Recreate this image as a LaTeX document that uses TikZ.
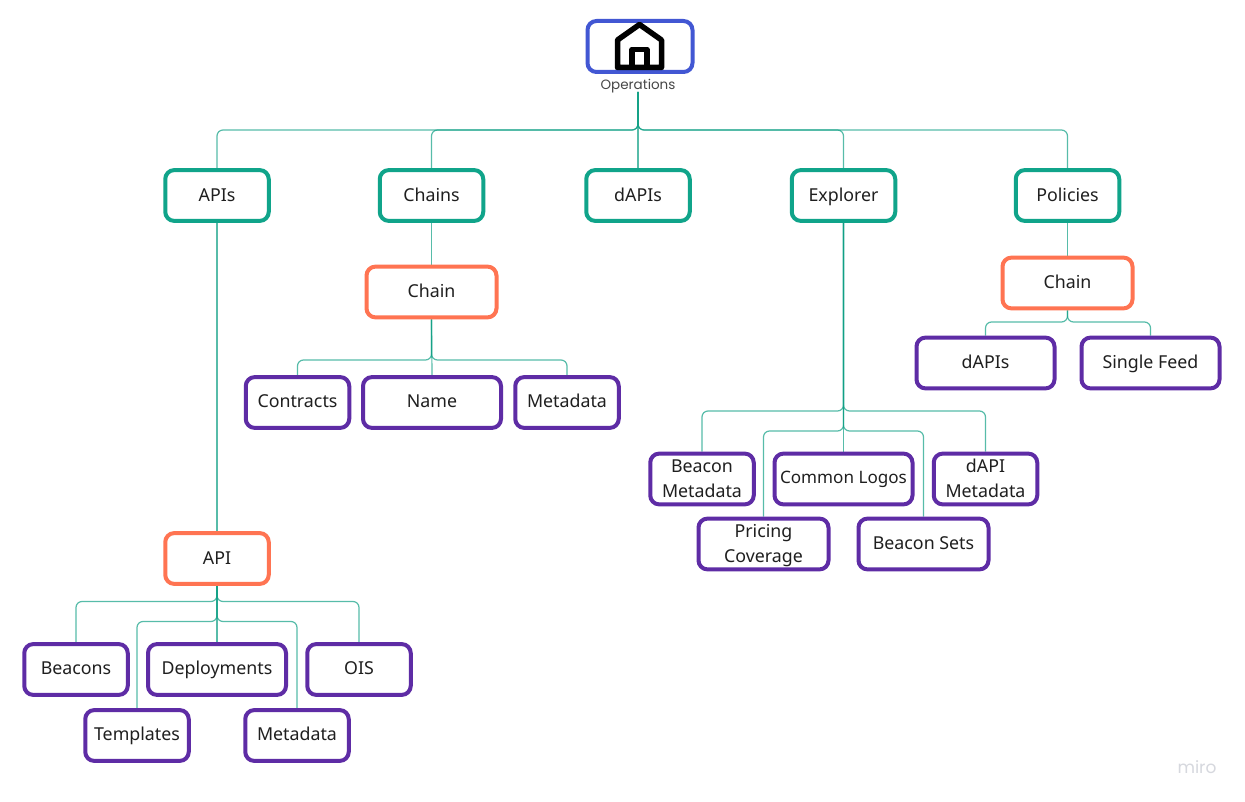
\documentclass[tikz,border=0pt]{standalone}
\usepackage{fontspec}
\setmainfont{Noto Sans}
\newfontfamily\labelfont{Poppins}
\usetikzlibrary{backgrounds}
\definecolor{tealbox}{HTML}{10A48A}
\definecolor{tealline}{HTML}{10A085}
\definecolor{orangebox}{HTML}{FF7452}
\definecolor{purplebox}{HTML}{5E2CA5}
\definecolor{bluebox}{HTML}{4257D3}
\definecolor{brandgrey}{HTML}{D6D8DE}
\newcommand{\lowstrut}{\rule[-6.35pt]{0pt}{24.5pt}}
\newcommand{\dropped}[1]{\raisebox{-1pt}[0pt][0pt]{#1}}
\newcommand{\twolines}[2]{\lowstrut\dropped{#1}\\[0.5pt]\strut\dropped{#2}}
\tikzset{
  basebox/.style={draw,fill=white,rounded corners=9pt,line width=4pt,inner sep=0pt,
    minimum width=103.5pt,minimum height=50.8pt,align=center,text=black!88,
    font=\fontsize{17.8}{24.5}\selectfont,execute at begin node=\lowstrut},
  greenbox/.style={basebox,draw=tealbox},
  orangebox/.style={basebox,draw=orangebox,minimum width=130pt},
  purplebox/.style={basebox,draw=purplebox},
  widebox/.style={purplebox,minimum width=138pt},
  midbox/.style={purplebox,minimum width=130pt},
  homebox/.style={basebox,draw=bluebox,minimum width=105pt,minimum height=51pt},
  uptext/.style={execute at begin node=\rule[-8.35pt]{0pt}{24.5pt}},
  link/.style={draw=tealline,line width=1.2pt,opacity=.7,rounded corners=6pt},
  caption/.style={font=\labelfont\fontsize{13.5}{15}\selectfont,text=black!72,inner sep=0pt},
  brand/.style={font=\labelfont\fontsize{17}{20}\selectfont,text=brandgrey,inner sep=0pt},
  house/.style={draw=black,line width=5.5pt,line join=round}
}
\begin{document}
\begin{tikzpicture}[x=1pt,y=-1pt]
\useasboundingbox (0,0) rectangle (1245,802);
% root
\node[homebox] (home) at (640,46.5) {};
\draw[house] (617.5,67.5) -- (617.5,40) -- (639.5,24.5) -- (661.5,40) -- (661.5,67.5) -- cycle;
\draw[house] (632,67.5) -- (632,49.5) -- (647,49.5) -- (647,67.5);
\node[caption] (ops) at (638,86) {Operations};
\coordinate (root) at (638,92);
% top level
\node[greenbox] (apis) at (217,195.5) {APIs};
\node[greenbox] (chains) at (431.5,195.5) {Chains};
\node[greenbox] (dapis) at (638,195.5) {dAPIs};
\node[greenbox] (explorer) at (843.5,195.5) {Explorer};
\node[greenbox] (policies) at (1067.5,195.5) {Policies};
% second level
\node[orangebox] (chainA) at (431.5,292) {Chain};
\node[orangebox] (chainB) at (1067.5,283) {Chain};
\node[orangebox,minimum width=103.5pt] (api) at (217,558.5) {API};
% chain children
\node[purplebox,uptext] (contracts) at (297.5,402.5) {Contracts};
\node[widebox,uptext] (name) at (432,402.5) {Name};
\node[purplebox,uptext] (metaA) at (567,402.5) {Metadata};
% policies children
\node[widebox] (dapisB) at (985.5,363) {dAPIs};
\node[widebox] (single) at (1150.5,363) {Single Feed};
% explorer children
\node[purplebox] (beaconmeta) at (702,479) {\twolines{Beacon}{Metadata}};
\node[widebox,uptext,font=\fontsize{17.1}{24.5}\selectfont] (logos) at (843.5,479) {Common Logos};
\node[purplebox] (dapimeta) at (985.5,479) {\twolines{dAPI}{Metadata}};
\node[midbox] (pricing) at (763.5,544) {\twolines{Pricing}{Coverage}};
\node[midbox] (beaconsets) at (923.5,544) {Beacon Sets};
% api children
\node[purplebox,uptext] (beacons) at (76,669.5) {Beacons};
\node[widebox,uptext] (deploy) at (217,669.5) {Deployments};
\node[purplebox,uptext] (ois) at (359,669.5) {OIS};
\node[purplebox,uptext] (templates) at (137,735.5) {Templates};
\node[purplebox,uptext] (metaB) at (297,735.5) {Metadata};
% brand
\node[brand] (miro) at (1197,767) {miro};
% bus levels
\coordinate (busTop) at (0,130);
\coordinate (busChain) at (0,360);
\coordinate (busPol) at (0,322);
\coordinate (busExpA) at (0,411);
\coordinate (busExpB) at (0,431);
\coordinate (busApiA) at (0,601.5);
\coordinate (busApiB) at (0,621.5);
\begin{scope}[on background layer]
\fill[white] (0,0) rectangle (1245,802);
\draw[link] (root) -- (root |- busTop) -| (apis.north);
\draw[link] (root) -- (root |- busTop) -| (chains.north);
\draw[link] (root) -- (dapis.north);
\draw[link] (root) -- (root |- busTop) -| (explorer.north);
\draw[link] (root) -- (root |- busTop) -| (policies.north);
\draw[link] (apis.south) -- (api.north);
\draw[link] (chains.south) -- (chainA.north);
\draw[link] (policies.south) -- (chainB.north);
\draw[link] (chainA.south) -- (chainA.south |- busChain) -| (contracts.north);
\draw[link] (chainA.south) -- (name.north);
\draw[link] (chainA.south) -- (chainA.south |- busChain) -| (metaA.north);
\draw[link] (chainB.south) -- (chainB.south |- busPol) -| (dapisB.north);
\draw[link] (chainB.south) -- (chainB.south |- busPol) -| (single.north);
\draw[link] (explorer.south) -- (explorer.south |- busExpA) -| (beaconmeta.north);
\draw[link] (explorer.south) -- (logos.north);
\draw[link] (explorer.south) -- (explorer.south |- busExpA) -| (dapimeta.north);
\draw[link] (explorer.south) -- (explorer.south |- busExpB) -| (pricing.north);
\draw[link] (explorer.south) -- (explorer.south |- busExpB) -| (beaconsets.north);
\draw[link] (api.south) -- (api.south |- busApiA) -| (beacons.north);
\draw[link] (api.south) -- (deploy.north);
\draw[link] (api.south) -- (api.south |- busApiA) -| (ois.north);
\draw[link] (api.south) -- (api.south |- busApiB) -| (templates.north);
\draw[link] (api.south) -- (api.south |- busApiB) -| (metaB.north);
\end{scope}
\end{tikzpicture}
\end{document}
